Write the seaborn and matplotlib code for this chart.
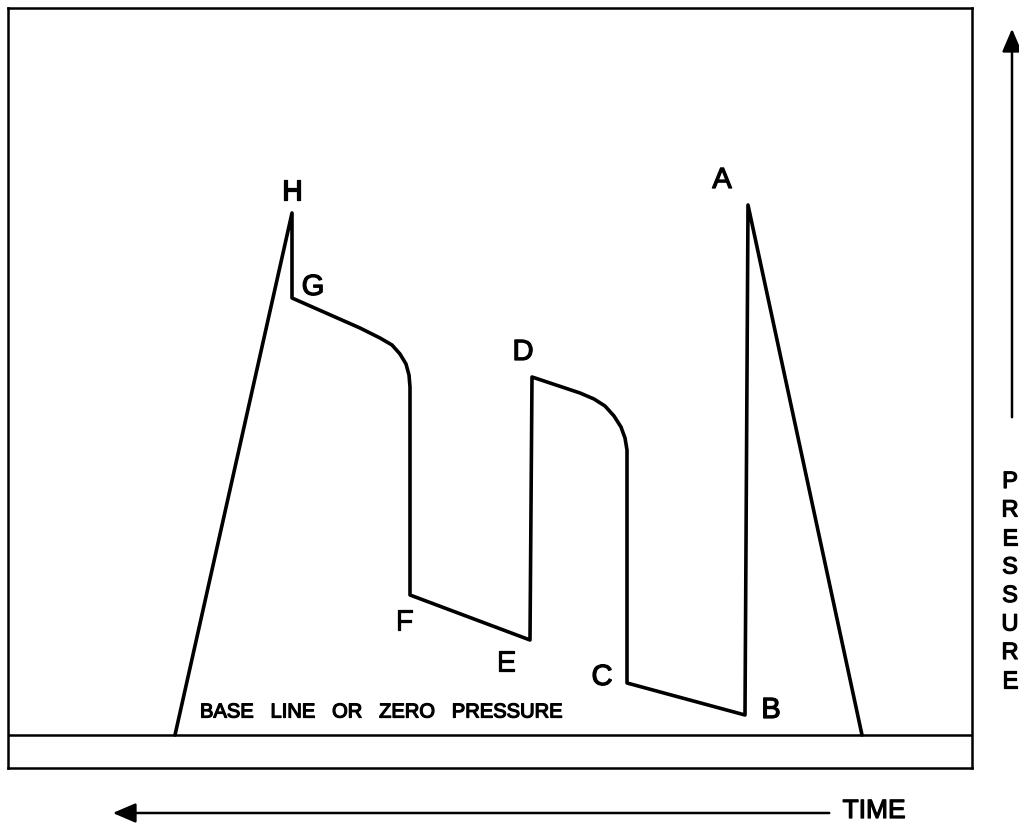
import matplotlib
matplotlib.use("Agg")
import matplotlib.pyplot as plt
import matplotlib.patheffects as pe
import seaborn as sns
import pandas as pd

# trace: time (px from box left), pressure (px above base line)
time = [167, 284, 284, 352, 372, 384, 392, 398, 401, 402, 402, 522, 524,
        572, 586, 597, 606, 613, 617, 619, 619, 737, 740, 854]
pressure = [0, 522, 437, 407, 397, 390, 381, 371, 360, 348, 140, 95, 358,
            342, 336, 329, 319, 308, 297, 285, 52, 20, 530, 0]

# point labels and where they sit
labels = ["H", "G", "D", "A", "F", "E", "C", "B"]
label_t = [284, 305, 515, 714, 396, 498, 594, 763]
label_p = [543, 448, 383, 555, 113, 72, 58, 25]

W, H = 1019, 827
sns.set_theme(style="white")
plt.rcParams["font.family"] = ["Liberation Sans", "DejaVu Sans"]
plt.rcParams["text.color"] = "black"

# medium-weight look: regular face with a thin outline
MED = [pe.withStroke(linewidth=0.9, foreground="black")]

fig = plt.figure(figsize=(W / 100, H / 100), dpi=100)
ax = fig.add_axes([8 / W, (H - 768) / H, 964 / W, 760 / H])

df = pd.DataFrame({"time": time, "pressure": pressure})
sns.lineplot(data=df, x="time", y="pressure", sort=False, color="black",
             lw=2.6, ax=ax, estimator=None)
ax.axhline(0, color="black", lw=1.8)

for lab, t, p in zip(labels, label_t, label_p):
    ax.text(t, p, lab, fontsize=21, ha="center", va="center", color="black",
            path_effects=MED)

ax.text(192, 23, "BASE   LINE   OR   ZERO   PRESSURE", fontsize=14.5,
        ha="left", va="center", color="black", path_effects=MED)

ax.set_xlim(0, 964)
ax.set_ylim(-33, 727)
ax.set_xticks([])
ax.set_yticks([])
ax.set_xlabel("")
ax.set_ylabel("")
for s in ax.spines.values():
    s.set_color("black")
    s.set_linewidth(1.8)

# time arrow (pointing left) and label
fig.add_artist(matplotlib.patches.FancyArrowPatch(
    (832 / W, 1 - 813 / H), (110 / W, 1 - 813 / H), transform=fig.transFigure,
    arrowstyle="-|>,head_length=14,head_width=6", mutation_scale=1,
    color="black", lw=1.8))
fig.text(874 / W, 1 - 811 / H, "TIME", fontsize=19, ha="center",
         va="center", color="black", path_effects=MED)

# pressure arrow (pointing up) and stacked label
fig.add_artist(matplotlib.patches.FancyArrowPatch(
    (1012 / W, 1 - 420 / H), (1012 / W, 1 - 26 / H), transform=fig.transFigure,
    arrowstyle="-|>,head_length=14,head_width=6", mutation_scale=1,
    color="black", lw=1.8))
for i, ch in enumerate("PRESSURE"):
    fig.text(1010 / W, 1 - (482 + i * 28.5) / H, ch, fontsize=17,
             ha="center", va="center", color="black", path_effects=MED)

fig.savefig("out.png", dpi=100)
